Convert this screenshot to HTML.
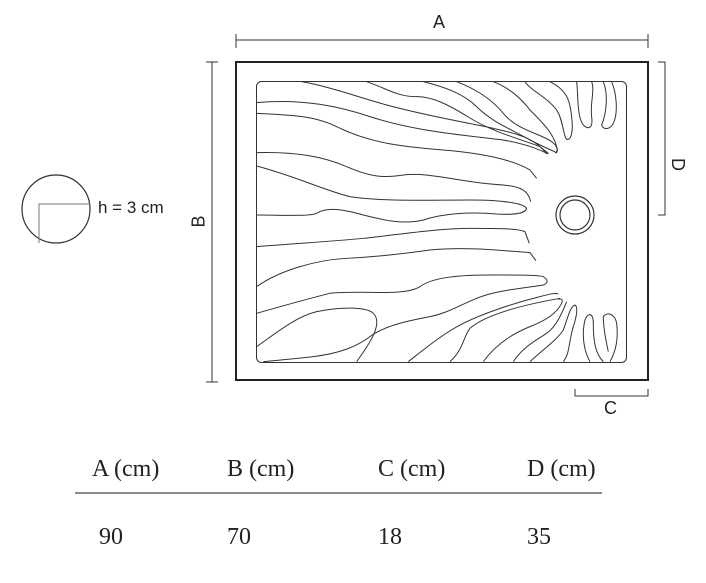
<!DOCTYPE html>
<html><head><meta charset="utf-8"><style>
html,body{margin:0;padding:0;background:#fff;}
body{width:706px;height:583px;position:relative;overflow:hidden;font-family:"Liberation Sans",sans-serif;}
.t{position:absolute;font-family:"Liberation Serif",serif;font-size:24px;color:#222;}
</style></head><body>
<svg width="706" height="583" style="position:absolute;left:0;top:0" fill="none" stroke="#333">
<line x1="236" y1="40" x2="648" y2="40" stroke-width="1"/>
<line x1="236" y1="34" x2="236" y2="48"/><line x1="648" y1="34" x2="648" y2="48"/>
<line x1="212" y1="62" x2="212" y2="382"/>
<line x1="206" y1="62" x2="218" y2="62"/><line x1="206" y1="382" x2="218" y2="382"/>
<polyline points="658,62 665,62 665,215 658,215"/>
<polyline points="575,389 575,396 648,396 648,389"/>
<rect x="236" y="62" width="412" height="318" stroke-width="2" stroke="#222"/>
<rect x="256.5" y="81.5" width="370" height="281" rx="5" stroke-width="1"/>
<circle cx="575" cy="215" r="19" stroke-width="1.2"/>
<circle cx="575" cy="215" r="15" stroke-width="1.2"/>
<g transform="translate(230,50) scale(0.3333)" stroke-width="3">
<path d="M80,158 C220,145 330,170 420,200 C560,245 700,255 820,270 C900,285 930,300 955,312"/>
<path d="M215,95 C300,110 380,140 470,165 C600,200 700,215 790,235 C880,255 920,270 950,312"/>
<path d="M80,190 C200,195 260,200 320,230 C420,280 520,290 640,300 C760,310 850,330 900,360 L920,385"/>
<path d="M410,95 C470,115 500,140 560,140 C620,140 680,180 730,210 C800,250 880,270 930,290 L955,310"/>
<path d="M80,308 C200,305 280,320 350,350 C420,380 460,385 520,375 C600,365 700,400 820,405 C870,410 895,420 902,455"/>
<path d="M580,95 C640,110 700,130 740,170 C790,220 850,240 900,270 C940,290 960,300 975,305"/>
<path d="M680,95 C720,110 780,140 820,190 C860,240 930,250 965,275 C985,290 985,305 975,308"/>
<path d="M790,95 C830,110 870,140 900,180 C940,220 970,250 980,290 C985,305 980,310 975,308"/>
<path d="M885,95 C900,120 950,140 980,180 C1000,210 1000,260 1010,268 C1025,272 1030,240 1025,200 C1020,150 1010,120 960,95"/>
<path d="M1040,95 C1045,130 1040,200 1060,225 C1075,240 1090,235 1085,200 C1080,160 1095,120 1085,95"/>
<path d="M1120,95 C1135,130 1130,190 1115,225 C1120,240 1140,240 1150,220 C1165,190 1160,130 1145,95"/>
<path d="M80,348 C200,380 280,420 360,440 C450,455 600,450 720,450 C820,450 880,460 890,475 C885,492 850,495 800,492 C720,485 640,490 580,510 C520,525 460,510 400,495 C340,478 290,470 260,490 C240,500 150,495 80,495"/>
<path d="M80,590 C200,580 300,575 400,565 C500,555 620,535 720,535 C800,535 860,535 885,545 L898,580"/>
<path d="M80,710 C150,660 260,630 350,625 C450,620 530,610 600,600 C700,590 800,600 900,608 L918,632"/>
<path d="M80,790 C150,770 220,750 300,730 C400,720 520,740 570,710 C610,680 700,675 780,675 C860,675 920,675 940,680 C955,690 955,700 940,705 C880,715 800,720 740,745 C680,770 650,790 600,800 C520,815 460,830 420,860 C380,890 330,910 250,920 C180,928 130,932 100,935"/>
<path d="M80,890 C150,840 200,800 260,785 C330,770 410,770 430,790 C460,820 420,880 380,935"/>
<path d="M535,935 C580,900 640,850 700,820 C760,790 850,760 930,740 C960,732 975,728 985,732"/>
<path d="M660,935 C700,900 700,860 720,835 C760,800 850,770 990,745"/>
<path d="M760,935 C800,880 850,850 900,830 C950,810 980,790 995,760 C1000,750 995,745 985,748"/>
<path d="M850,935 C880,890 920,870 950,850 C980,830 1000,780 1010,755"/>
<path d="M900,935 C950,890 980,870 1000,840 C1015,800 1020,770 1035,765 C1045,770 1040,800 1030,830 C1015,880 1020,910 1000,935"/>
<path d="M1080,935 C1060,900 1055,850 1065,810 C1075,785 1090,790 1090,820 C1090,870 1095,910 1120,935"/>
<path d="M1140,935 C1160,900 1165,860 1160,820 C1155,790 1130,785 1120,800 C1120,840 1130,880 1135,905"/>
</g>
<circle cx="56" cy="209" r="34" stroke-width="1.2"/>
<polyline points="39,243 39,204 90,204" stroke="#777" stroke-width="1"/>
<line x1="75" y1="493" x2="602" y2="493" stroke="#444" stroke-width="1.2"/>
</svg>
<div style="position:absolute;left:433px;top:12px;font-size:18px;color:#222">A</div>
<div style="position:absolute;left:193px;top:211px;font-size:18px;color:#222;transform:rotate(-90deg)">B</div>
<div style="position:absolute;left:671px;top:154px;font-size:18px;color:#222;transform:rotate(90deg)">D</div>
<div style="position:absolute;left:604px;top:398px;font-size:18px;color:#222">C</div>
<div style="position:absolute;left:98px;top:198px;font-size:17px;color:#222">h = 3 cm</div>
<div class="t" style="left:92px;top:456px">A (cm)</div>
<div class="t" style="left:227px;top:456px">B (cm)</div>
<div class="t" style="left:378px;top:456px">C (cm)</div>
<div class="t" style="left:527px;top:456px">D (cm)</div>
<div class="t" style="left:99px;top:524px">90</div>
<div class="t" style="left:227px;top:524px">70</div>
<div class="t" style="left:378px;top:524px">18</div>
<div class="t" style="left:527px;top:524px">35</div>
</body></html>
